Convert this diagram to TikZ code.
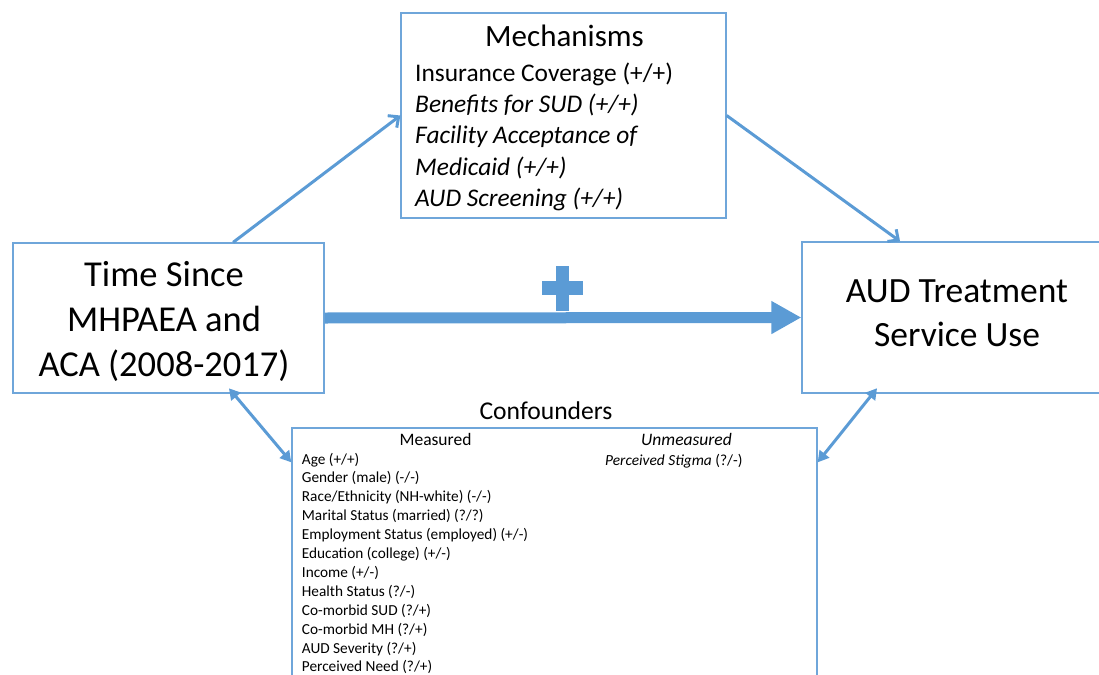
\documentclass[tikz,border=0pt]{standalone}
\usepackage{fontspec}
\setmainfont{Carlito}
\usetikzlibrary{arrows.meta,calc}
\definecolor{ablue}{HTML}{5B9BD5}
\definecolor{bblue}{HTML}{6FA6DA}
\begin{document}
\begin{tikzpicture}[x=1pt,y=-1pt,
  box/.style={draw=bblue, line width=1.3pt, inner sep=0pt},
  txt/.style={inner sep=0pt, text=black},
  mecharrow/.style={draw=ablue, line width=3pt, -{Straight Barb[length=8pt,width=15pt,line width=3pt]}},
  dblarrow/.style={draw=ablue, line width=3pt, {Triangle[length=11pt,width=12pt]}-{Triangle[length=11pt,width=12pt]}},
  mainarrow/.style={draw=ablue, line width=11pt, -{Triangle[length=30pt,width=31pt]}}]
\useasboundingbox (0,0) rectangle (1099,674);
\clip (0,0) rectangle (1099,674);
% boxes
\node[box, minimum width=311pt, minimum height=150pt] (time) at (168.5,318) {};
\node[box, minimum width=325pt, minimum height=205pt] (mech) at (563.5,115.5) {};
\node[box, minimum width=313pt, minimum height=151pt] (out) at (958.5,317.5) {};
\node[box, minimum width=525pt, minimum height=272pt] (conf) at (554.5,564) {};
% texts (multi-line nodes: base = last line's baseline)
\node[txt, anchor=base, align=center, font=\fontsize{36.5}{45}\selectfont] (timetxt) at (164,376.7) {Time Since\\MHPAEA and\\ACA (2008-2017)};
\node[txt, anchor=base, align=center, font=\fontsize{35.5}{44.7}\selectfont] (outtxt) at (957,346.7) {AUD Treatment\\Service Use};
\node[txt, anchor=base, font=\fontsize{31}{37}\selectfont] (mechtitle) at (564.5,46.7) {Mechanisms};
\node[txt, anchor=base west, align=left, font=\fontsize{25.4}{31.1}\selectfont] (mechlist) at (415,206.1)
  {Insurance Coverage (+/+)\\\textit{Benefits for SUD (+/+)}\\\textit{Facility Acceptance of}\\\textit{Medicaid (+/+)}\\\textit{AUD Screening (+/+)}};
\node[txt, anchor=base, font=\fontsize{25.6}{30}\selectfont] (conftitle) at (546,419.3) {Confounders};
\node[txt, anchor=base, font=\fontsize{17.5}{21}\selectfont] (measured) at (435.5,445) {Measured};
\node[txt, anchor=base west, align=left, font=\fontsize{15.3}{18.9}\selectfont] (measlist) at (301.7,671.9)
  {Age (+/+)\\Gender (male) (-/-)\\Race/Ethnicity (NH-white) (-/-)\\Marital Status (married) (?/?)\\Employment Status (employed) (+/-)\\Education (college) (+/-)\\Income (+/-)\\Health Status (?/-)\\Co-morbid SUD (?/+)\\Co-morbid MH (?/+)\\AUD Severity (?/+)\\Perceived Need (?/+)};
\node[txt, anchor=base, font=\fontsize{17.5}{21}\selectfont\itshape] (unmeasured) at (686.5,445) {Unmeasured};
\node[txt, anchor=base west, font=\fontsize{15.4}{18}\selectfont] (stigma) at (605,465) {\textit{Perceived Stigma} (?/-)};
% plus sign
\fill[ablue] (542,281) rectangle (583,295);
\fill[ablue] (556,266) rectangle (569,311);
% arrows
\draw[mainarrow] (time.east) -- (out.west);
\draw[mecharrow] ($(time.north west)!0.707!(time.north east)$) -- (mech.west);
\draw[mecharrow] (mech.east) -- ($(out.north west)!0.314!(out.north east)$);
\draw[dblarrow, shorten <=-7pt] ($(time.south west)!0.708!(time.south east)$) -- ($(conf.north west)+(0,35)$);
\draw[dblarrow, shorten <=-7pt] ($(out.south west)!0.227!(out.south east)$) -- ($(conf.north east)+(0,35)$);
\end{tikzpicture}
\end{document}
